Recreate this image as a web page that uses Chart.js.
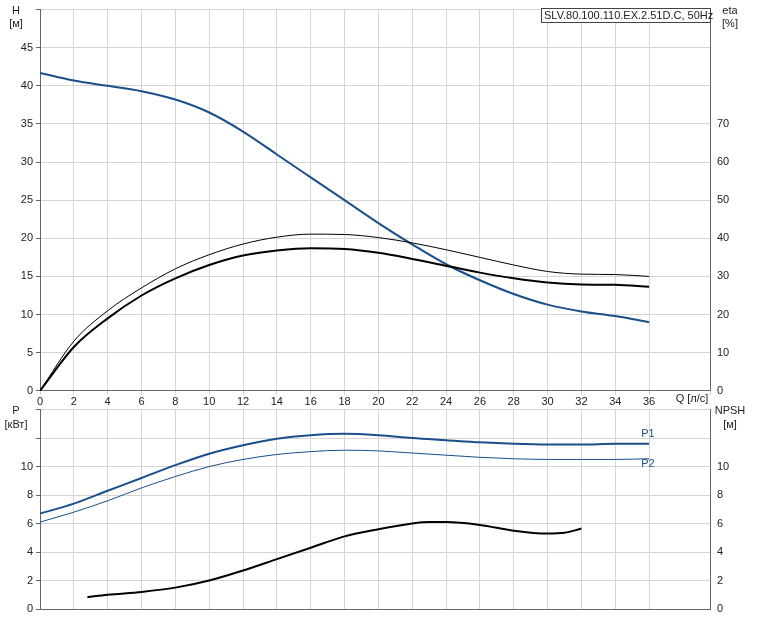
<!DOCTYPE html>
<html>
<head>
<meta charset="utf-8">
<script src="https://cdn.jsdelivr.net/npm/chart.js@4"></script>
<style>
  body { margin: 0; background: #fff; }
  .box { position: absolute; left: 0; width: 757px; }
</style>
</head>
<body>
<div class="box" style="top:0;height:410px"><canvas id="top"></canvas></div>
<div class="box" style="top:400px;height:219px"><canvas id="bottom"></canvas></div>
<script>
/* global Chart */
const flowQ = [0, 2, 4, 6, 8, 10, 12, 14, 16, 18, 20, 22, 24, 26, 28, 30, 32, 34, 36];
const headH = [41.7, 40.7, 40, 39.3, 38.2, 36.5, 34, 31, 28, 25, 22, 19.2, 16.6, 14.5, 12.7, 11.3, 10.4, 9.8, 9.0];
const etaThin = [0, 13, 21, 27, 32, 35.7, 38.5, 40.3, 41.1, 41, 40.2, 38.8, 37, 35, 33, 31.3, 30.6, 30.5, 30];
const etaThick = [0, 11.5, 19, 25, 29.5, 33, 35.5, 36.8, 37.4, 37.2, 36.2, 34.6, 32.8, 31, 29.5, 28.4, 27.9, 27.8, 27.3];
const powerP1 = [6.7, 7.4, 8.3, 9.2, 10.1, 10.9, 11.5, 11.95, 12.2, 12.3, 12.2, 12.0, 11.85, 11.7, 11.6, 11.55, 11.55, 11.6, 11.6];
const powerP2 = [6.1, 6.8, 7.6, 8.5, 9.3, 10.0, 10.5, 10.85, 11.05, 11.15, 11.1, 10.95, 10.8, 10.65, 10.55, 10.5, 10.5, 10.5, 10.55];
const npshQ = [2.8, 4, 6, 8, 10, 12, 14, 16, 18, 20, 22, 23, 24, 26, 28, 30, 31, 32];
const npshM = [0.83, 1.0, 1.2, 1.5, 2.0, 2.7, 3.5, 4.3, 5.1, 5.6, 6.0, 6.1, 6.1, 5.9, 5.5, 5.3, 5.35, 5.65];

const blue = '#1a4f8a';
const grid = '#d4d4d4';
const font = { family: 'Liberation Sans, Arial, sans-serif', size: 11 };
Chart.defaults.font = font;
Chart.defaults.color = '#222';

function pts(xs, ys) { return xs.map((x, i) => ({ x: x, y: ys[i] })); }
function line(data, color, width, axis) {
  return { data: data, borderColor: color, borderWidth: width, pointRadius: 0,
    cubicInterpolationMode: 'monotone', fill: false, yAxisID: axis };
}

const textPlugin = {
  id: 'texts',
  afterDraw(chart, args, opts) {
    const c = chart.ctx;
    c.save();
    c.font = '11px Liberation Sans, Arial, sans-serif';
    (opts.items || []).forEach(t => {
      c.fillStyle = t.color || '#222';
      c.textAlign = t.align || 'center';
      c.fillText(t.text, t.x, t.y);
    });
    if (opts.box) {
      const b = opts.box;
      c.fillStyle = '#fff';
      c.fillRect(b.x, b.y, b.w, b.h);
      c.strokeStyle = '#444';
      c.lineWidth = 1;
      c.strokeRect(b.x + 0.5, b.y + 0.5, b.w, b.h);
      c.fillStyle = '#222';
      c.textAlign = 'left';
      c.fillText(b.text, b.x + 3, b.y + 11);
    }
    c.restore();
  }
};

function xAxis(showTicks) {
  return { type: 'linear', min: 0, max: 39.6,
    grid: { color: grid, drawTicks: showTicks, tickLength: 4 },
    border: { color: '#666' },
    ticks: { display: showTicks, stepSize: 2, autoSkip: false, padding: 1,
      callback: v => (v <= 36 ? v : '') } };
}
function yAxis(pos, max, step, labelMax, w, showGrid) {
  return { type: 'linear', position: pos, min: 0, max: max,
    grid: { display: showGrid, color: grid, tickLength: 4, tickColor: '#666' },
    border: { color: '#666' },
    ticks: { stepSize: step, autoSkip: false, padding: 3,
      callback: v => (v <= labelMax ? v : '') },
    afterFit(s) { s.width = w; } };
}

new Chart(document.getElementById('top'), {
  type: 'line',
  data: { datasets: [
    line(pts(flowQ, etaThin), '#000', 1, 'eta'),
    line(pts(flowQ, etaThick), '#000', 2, 'eta'),
    line(pts(flowQ, headH), blue, 2, 'h')
  ] },
  options: {
    responsive: true, maintainAspectRatio: false, animation: false,
    layout: { padding: { top: 8, bottom: 0 } },
    plugins: { legend: { display: false }, tooltip: { enabled: false },
      texts: {
        items: [
          { text: 'H', x: 16, y: 14 }, { text: '[м]', x: 16, y: 27 },
          { text: 'eta', x: 730, y: 14 }, { text: '[%]', x: 730, y: 27 },
          { text: 'Q [л/с]', x: 692, y: 402 }
        ],
        box: { x: 541, y: 8, w: 169, h: 14, text: 'SLV.80.100.110.EX.2.51D.C, 50Hz' }
      } },
    scales: {
      x: xAxis(true),
      h: yAxis('left', 50, 5, 45, 40, true),
      eta: yAxis('right', 100, 10, 70, 47, false)
    }
  },
  plugins: [textPlugin]
});

new Chart(document.getElementById('bottom'), {
  type: 'line',
  data: { datasets: [
    line(pts(flowQ, powerP1), blue, 2, 'p'),
    line(pts(flowQ, powerP2), blue, 1, 'p'),
    line(pts(npshQ, npshM), '#000', 2, 'npsh')
  ] },
  options: {
    responsive: true, maintainAspectRatio: false, animation: false,
    layout: { padding: { top: 7, bottom: 10 } },
    plugins: { legend: { display: false }, tooltip: { enabled: false },
      texts: {
        items: [
          { text: 'P', x: 16, y: 14 }, { text: '[кВт]', x: 16, y: 28 },
          { text: 'NPSH', x: 730, y: 14 }, { text: '[м]', x: 730, y: 28 },
          { text: 'P1', x: 648, y: 37, color: blue },
          { text: 'P2', x: 648, y: 67, color: blue }
        ]
      } },
    scales: {
      x: xAxis(false),
      p: yAxis('left', 14, 2, 10, 40, true),
      npsh: yAxis('right', 14, 2, 10, 47, false)
    }
  },
  plugins: [textPlugin]
});
</script>
</body>
</html>
